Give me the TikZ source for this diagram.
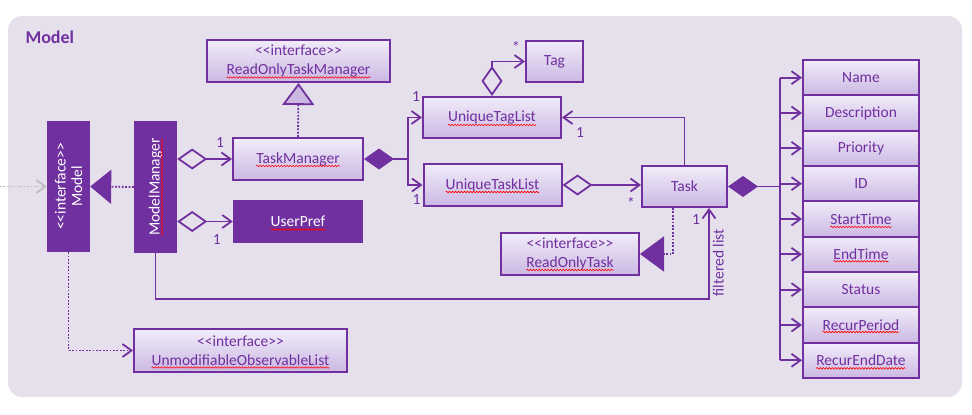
\documentclass[tikz,border=0pt]{standalone}
\usepackage{fontspec}
\setmainfont{Carlito}[Ligatures=TeXOff]
\usetikzlibrary{arrows.meta, decorations.pathmorphing}
\definecolor{umlpurple}{HTML}{7030A0}
\definecolor{panelbg}{HTML}{E6E0EC}
\definecolor{boxtop}{HTML}{F1ECF9}
\definecolor{boxbot}{HTML}{CBB8E3}
\newcommand\boxfont{\fontsize{15.5}{19}\selectfont}
% red spell-check wave under a node's text: node, text, drop below centre
\newcommand\squig[3]{%
    {\boxfont\pgfmathsetmacro\sqw{width("#2")}\xdef\sqwg{\sqw}}%
    \pgfmathsetmacro\sqh{\sqwg/2}%
    \draw[squigline] ([xshift=-\sqh pt, yshift=-#3]#1.center) -- ++(\sqwg,0);
}
\tikzstyle{classbox} = [
    rectangle,
    draw=umlpurple,
    line width=2pt,
    top color=boxtop,
    bottom color=boxbot,
    text=umlpurple,
    font=\boxfont,
    align=center,
    inner sep=0pt
]
\tikzstyle{darkbox} = [
    rectangle,
    fill=umlpurple,
    text=white,
    font=\boxfont,
    align=center,
    inner sep=0pt
]
\tikzstyle{field} = [
    classbox,
    minimum width=116pt,
    minimum height=35.33pt
]
\tikzstyle{mult} = [
    text=umlpurple,
    font=\boxfont,
    inner sep=0pt
]
\tikzstyle{link} = [
    line width=1.8pt,
    draw=umlpurple
]
\tikzstyle{dots} = [
    link,
    dash pattern=on 1.8pt off 1.6pt
]
\tikzstyle{aggr} = [
    link,
    {Diamond[open, length=30pt, width=21pt]}->
]
\tikzstyle{squigline} = [
    draw=red,
    line width=0.6pt,
    decorate,
    decoration={snake, amplitude=0.8pt, segment length=3pt}
]

\begin{document}
\begin{tikzpicture}[x=1pt, y=-1pt, >={Straight Barb[length=9pt, width=13pt]}, node distance=35.33pt]
    \useasboundingbox[fill=white] (0,0) rectangle (972,415);
    \fill[panelbg, rounded corners=14pt] (8,16) rectangle (962,397);
    \node (title) [anchor=west, text=umlpurple, font=\bfseries\fontsize{18}{20}\selectfont] at (22,37) {Model};

    \node (model) [darkbox, rotate=90, minimum width=131pt, minimum height=43pt, font=\fontsize{15.5}{16.5}\selectfont] at (68.5,186.5) {<<interface>>\\Model};
    \node (modelmgr) [darkbox, rotate=90, minimum width=132pt, minimum height=43pt] at (155.5,187) {ModelManager};
    \node (rotm) [classbox, minimum width=183pt, minimum height=42pt] at (298.5,61) {<<interface>>\\ReadOnlyTaskManager};
    \node (taskmgr) [classbox, minimum width=130pt, minimum height=42pt] at (298,159) {TaskManager};
    \node (userpref) [darkbox, minimum width=130pt, minimum height=43pt] at (298,221.5) {UserPref};
    \node (tag) [classbox, minimum width=57pt, minimum height=41pt] at (554.5,61.5) {Tag};
    \node (taglist) [classbox, minimum width=138pt, minimum height=41pt] at (492,117.5) {UniqueTagList};
    \node (tasklist) [classbox, minimum width=138pt, minimum height=42pt] at (492.5,185) {UniqueTaskList};
    \node (task) [classbox, minimum width=85pt, minimum height=41pt] at (684.5,186.5) {Task};
    \node (rotask) [classbox, minimum width=138pt, minimum height=42pt] at (570,254) {<<interface>>\\ReadOnlyTask};
    \node (unmod) [classbox, minimum width=213pt, minimum height=43pt] at (240.5,350.5) {<<interface>>\\UnmodifiableObservableList};

    % attributes of a task
    \node (name) [field] at (861,77.67) {Name};
    \node (desc) [field, below of=name] {Description};
    \node (prio) [field, below of=desc] {Priority};
    \node (id) [field, below of=prio] {ID};
    \node (starttime) [field, below of=id] {StartTime};
    \node (endtime) [field, below of=starttime] {EndTime};
    \node (status) [field, below of=endtime] {Status};
    \node (period) [field, below of=status] {RecurPeriod};
    \node (recurend) [field, below of=period] {RecurEndDate};

    % spell-check marks
    \squig{rotm}{ReadOnlyTaskManager}{16.5pt}
    \squig{taskmgr}{TaskManager}{7pt}
    \squig{userpref}{UserPref}{8pt}
    \squig{taglist}{UniqueTagList}{7.5pt}
    \squig{tasklist}{UniqueTaskList}{7pt}
    \squig{rotask}{ReadOnlyTask}{16pt}
    \squig{unmod}{UnmodifiableObservableList}{17pt}
    \squig{starttime}{StartTime}{8pt}
    \squig{endtime}{EndTime}{7pt}
    \squig{period}{RecurPeriod}{7pt}
    \squig{recurend}{RecurEndDate}{8pt}
    {\boxfont\pgfmathsetmacro\sqw{width("ModelManager")}\xdef\sqwg{\sqw}}
    \pgfmathsetmacro\sqh{\sqwg/2}
    \draw[squigline] ([xshift=6.5pt, yshift=-\sqh pt]modelmgr.center) -- ++(0,-\sqwg);

    \coordinate (ext) at (0,186.5);
    \draw[draw=gray!50, line width=1.8pt, dash pattern=on 1.8pt off 1.6pt, ->] (ext) -- (model.north);
    \draw[dots, -{Triangle[length=21pt, width=34pt]}] (modelmgr.north) -- (model.south);
    \draw[aggr] (modelmgr.south |- taskmgr.west) -- (taskmgr.west) node[mult, at end, xshift=-12pt, yshift=16pt] {1};
    \draw[aggr] (modelmgr.south |- userpref.west) -- (userpref.west) node[mult, at end, xshift=-16pt, yshift=-18pt] {1};
    \draw[dots, -{Triangle[length=22pt, width=32pt, fill=boxbot]}] (taskmgr.north) -- (rotm.south);

    \coordinate (split) at (408,159);
    \draw[link, {Diamond[length=30pt, width=21pt]}-] (taskmgr.east) -- (split);
    \draw[link, ->] (split) |- (taglist.west) node[mult, at end, xshift=-6pt, yshift=21pt] {1};
    \draw[link, ->] (split) |- (tasklist.west) node[mult, at end, xshift=-6pt, yshift=-15pt] {1};
    \draw[aggr] (taglist.north) |- (tag.west) node[mult, at end, xshift=-9pt, yshift=15pt] {*};
    \draw[aggr] (tasklist.east) -- (tasklist.east -| task.west) node[mult, at end, xshift=-10pt, yshift=-18pt] {*};
    \draw[link, ->] (task.north) |- (taglist.east) node[mult, at end, xshift=18pt, yshift=-15.5pt] {1};

    \coordinate (bus) at (780,186.5);
    \draw[link, {Diamond[length=30pt, width=21pt]}-] (task.east) -- (bus);
    \draw[link] (bus |- name.west) -- (bus |- recurend.west);
    \foreach \f in {name, desc, prio, id, starttime, endtime, status, period, recurend}
        \draw[link, ->] (bus |- \f.west) -- (\f.west);

    \draw[dots, -{Triangle[length=24pt, width=35pt]}] ([xshift=-11.5pt]task.south) |- (rotask.east);
    \coordinate (flcorner) at (709,299);
    \draw[link, ->] (modelmgr.west) |- (flcorner) -- (flcorner |- task.south)
        node[mult, at end, xshift=-13pt, yshift=-12pt] {1}
        node[mult, pos=0.4, rotate=90, anchor=north, inner sep=3pt] {filtered list};
    \draw[dots, ->] (model.west) |- (unmod.west);
\end{tikzpicture}
\end{document}
